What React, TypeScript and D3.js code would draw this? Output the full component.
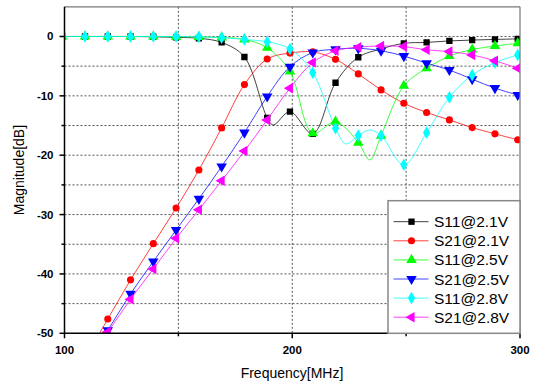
import * as d3 from "d3";

const freqs = [99, 109, 119, 129, 139, 149, 159, 169, 179, 189, 199, 209, 219, 229, 239, 249, 259, 269, 279, 289, 299];

const s11At21 = [0, 0, 0, 0, -0.05, -0.15, -0.3, -1.0, -3.45, -13.7, -12.65, -16.4, -7.8, -3.5, -2.1, -1.15, -1.0, -0.75, -0.6, -0.5, -0.4];
const s21At21 = [-60.8, -54.2, -47.6, -41.0, -34.9, -28.9, -22.5, -15.4, -8.1, -3.8, -2.8, -2.6, -3.85, -6.3, -9.0, -11.25, -12.8, -14.05, -15.35, -16.4, -17.4];
const s11At25 = [0, 0, 0, 0, 0, -0.05, -0.1, -0.15, -0.5, -1.9, -5.9, -16.3, -14.35, -17.9, -16.7, -8.3, -5.35, -3.3, -2.2, -1.6, -1.15];
const s21At25 = [-61, -55.3, -49.5, -43.35, -37.9, -32.6, -27.35, -21.9, -16.2, -10.1, -5.1, -2.7, -2.15, -2.0, -2.4, -3.3, -4.5, -5.65, -7.2, -8.7, -9.85];
const s11At28 = [0, 0, 0, 0, 0, 0, -0.05, -0.2, -0.5, -0.9, -2.1, -6.1, -15.45, -16.7, -16.7, -21.6, -16.2, -10.25, -6.5, -4.4, -3.1];
const s21At28 = [-60, -54.9, -49.8, -44.25, -39.15, -34.0, -29.2, -24.3, -19.3, -14.05, -8.7, -4.4, -2.4, -1.8, -1.6, -1.7, -2.25, -2.55, -3.1, -4.1, -5.35];

// curve points between markers (dips), [MHz, dB]
const s11At21Extra: [number, number][] = [[191.7, -14.9]];
const s11At25Extra: [number, number][] = [[234.1, -20.8]];
const s11At28Extra: [number, number][] = [[223.5, -18.1], [234, -15.75]];

const seriesNames = ["S11@2.1V", "S21@2.1V", "S11@2.5V", "S21@2.5V", "S11@2.8V", "S21@2.8V"];
const xTicks = [100, 200, 300];
const xMinor = [150, 250];
const yTicks = [-50, -40, -30, -20, -10, 0];
const yGrid = [-45, -40, -35, -30, -25, -20, -15, -10, -5, 0];

const series = [
  { name: seriesNames[0], values: s11At21, extra: s11At21Extra, color: "#000000", symbol: d3.symbolSquare, size: 40, rot: 0 },
  { name: seriesNames[1], values: s21At21, extra: [], color: "#ff0000", symbol: d3.symbolCircle, size: 40, rot: 0 },
  { name: seriesNames[2], values: s11At25, extra: s11At25Extra, color: "#00ff00", symbol: d3.symbolTriangle, size: 48, rot: 0 },
  { name: seriesNames[3], values: s21At25, extra: [], color: "#0000ff", symbol: d3.symbolTriangle, size: 48, rot: 180 },
  { name: seriesNames[4], values: s11At28, extra: s11At28Extra, color: "#00ffff", symbol: d3.symbolDiamond, size: 46, rot: 0 },
  { name: seriesNames[5], values: s21At28, extra: [], color: "#ff00ff", symbol: d3.symbolTriangle, size: 48, rot: -90 },
];

const W = 539;
const H = 383;
const left = 64.5;
const right = 520;
const top = 6.8;
const bottom = 333.3;

export default function App() {
  const x = d3.scaleLinear().domain([100, 300]).range([left, right]);
  const y = d3.scaleLinear().domain([-50, 5]).range([bottom, top]);
  const line = d3
    .line<[number, number]>()
    .x((d) => x(d[0]))
    .y((d) => y(d[1]))
    .curve(d3.curveCatmullRom.alpha(0.5));
  const font = "'Liberation Sans', Arial, sans-serif";

  const pts = (s: (typeof series)[number]) =>
    freqs
      .map((f, i) => [f, s.values[i]] as [number, number])
      .concat(s.extra as [number, number][])
      .sort((a, b) => a[0] - b[0]);

  return (
    <svg
      width={W}
      height={H}
      style={{ position: "absolute", left: 0, top: 0, background: "#fff" }}
      fontFamily={font}
    >
      <defs>
        <clipPath id="plot">
          <rect x={left} y={top} width={right - left} height={bottom - top} />
        </clipPath>
      </defs>

      {/* grid */}
      {yGrid.map((v) => (
        <line key={"gy" + v} x1={left} x2={right} y1={y(v)} y2={y(v)} stroke="#555" strokeWidth={1} strokeDasharray="2,2" />
      ))}
      {[150, 200, 250].map((v) => (
        <line key={"gx" + v} x1={x(v)} x2={x(v)} y1={top} y2={bottom} stroke="#555" strokeWidth={1} strokeDasharray="2,2" />
      ))}

      {/* series */}
      <g clipPath="url(#plot)">
        {series.map((s) => (
          <path key={s.name} d={line(pts(s)) ?? ""} fill="none" stroke={s.color} strokeWidth={1} strokeOpacity={0.75} />
        ))}
        {series.map((s) =>
          s.values.map((v, i) => (
            <path
              key={s.name + i}
              d={d3.symbol(s.symbol, s.size)() ?? ""}
              transform={`translate(${x(freqs[i])},${y(v)}) rotate(${s.rot})`}
              fill={s.color}
            />
          )),
        )}
      </g>

      {/* frame */}
      <line x1={left} x2={right} y1={top} y2={top} stroke="#777" strokeWidth={1.2} />
      <line x1={right} x2={right} y1={top} y2={bottom} stroke="#777" strokeWidth={1.2} />
      <line x1={left} x2={left} y1={top} y2={bottom + 0.7} stroke="#000" strokeWidth={1.5} />
      <line x1={left} x2={right} y1={bottom} y2={bottom} stroke="#000" strokeWidth={1.5} />

      {/* x ticks */}
      {xTicks.map((v) => (
        <g key={"xt" + v}>
          <line x1={x(v)} x2={x(v)} y1={bottom} y2={bottom + 5} stroke="#000" strokeWidth={1.5} />
          <text x={x(v)} y={354} textAnchor="middle" fontSize={11.5} fontWeight="bold">
            {v}
          </text>
        </g>
      ))}
      {xMinor.map((v) => (
        <line key={"xm" + v} x1={x(v)} x2={x(v)} y1={bottom} y2={bottom + 3} stroke="#000" strokeWidth={1.5} />
      ))}

      {/* y ticks */}
      {yTicks.map((v) => (
        <g key={"yt" + v}>
          <line x1={left - 5} x2={left} y1={y(v)} y2={y(v)} stroke="#000" strokeWidth={1.5} />
          <text x={53.5} y={y(v) + 4} textAnchor="end" fontSize={11.5} fontWeight="bold">
            {v}
          </text>
        </g>
      ))}
      {yGrid
        .filter((v) => !yTicks.includes(v))
        .map((v) => (
          <line key={"ym" + v} x1={left - 3} x2={left} y1={y(v)} y2={y(v)} stroke="#000" strokeWidth={1.5} />
        ))}

      {/* axis titles */}
      <text x={292} y={378} textAnchor="middle" fontSize={14}>
        Frequency[MHz]
      </text>
      <text transform={`translate(24,${(top + bottom) / 2}) rotate(-90)`} textAnchor="middle" fontSize={14}>
        Magnitude[dB]
      </text>

      {/* legend */}
      <rect x={388} y={200.7} width={right - 388} height={bottom - 200.7} fill="#fff" stroke="#888" strokeWidth={1.5} />
      {series.map((s, i) => {
        const ly = 221.7 + i * 19.1;
        return (
          <g key={"lg" + s.name}>
            <line x1={393.5} x2={428.5} y1={ly} y2={ly} stroke={s.color} strokeWidth={1} strokeOpacity={0.75} />
            <path d={d3.symbol(s.symbol, s.size)() ?? ""} transform={`translate(411.5,${ly}) rotate(${s.rot})`} fill={s.color} />
            <text x={434} y={ly + 5.5} fontSize={15.5}>
              {s.name}
            </text>
          </g>
        );
      })}
    </svg>
  );
}
